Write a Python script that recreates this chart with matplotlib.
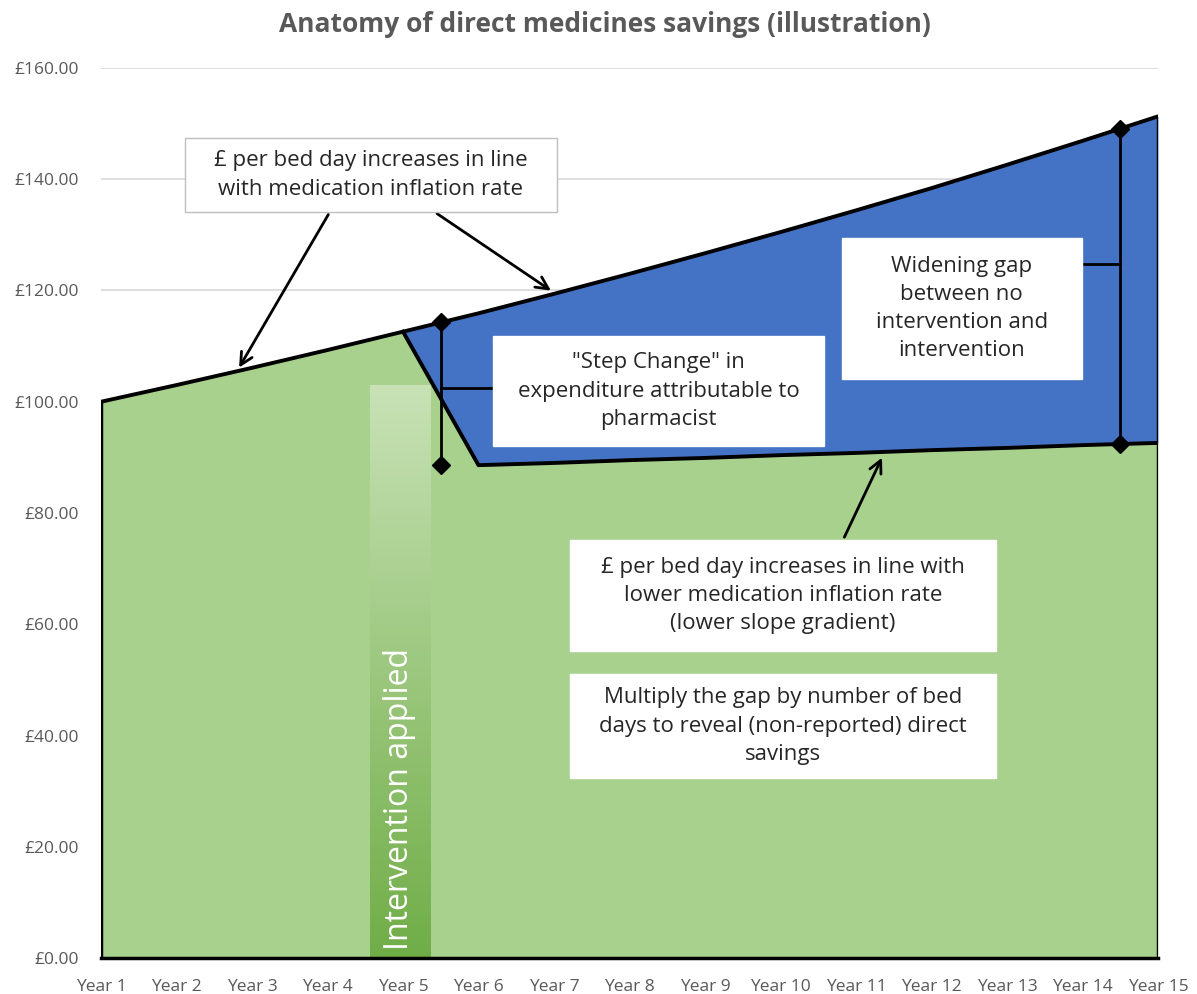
import numpy as np
import matplotlib
matplotlib.use('Agg')
import matplotlib.pyplot as plt
from matplotlib.patches import Rectangle
from matplotlib.colors import LinearSegmentedColormap

plt.rcParams['font.family'] = ['Open Sans', 'DejaVu Sans']

# data
years = ['Year 1', 'Year 2', 'Year 3', 'Year 4', 'Year 5', 'Year 6', 'Year 7', 'Year 8',
         'Year 9', 'Year 10', 'Year 11', 'Year 12', 'Year 13', 'Year 14', 'Year 15']
no_intervention = [100.0, 103.0, 106.1, 109.3, 112.6, 115.9, 119.4, 123.0,
                   126.7, 130.5, 134.4, 138.4, 142.6, 146.9, 151.3]
intervention = [100.0, 103.0, 106.1, 109.3, 112.6, 88.6, 89.0, 89.5,
                89.9, 90.4, 90.8, 91.3, 91.7, 92.2, 92.6]
step_x = 4.5      # between Year 5 and Year 6
gap_x = 13.5      # between Year 14 and Year 15
yticks = [0, 20, 40, 60, 80, 100, 120, 140, 160]

x = np.arange(len(years))
blue = '#4472c4'
green = '#a9d18e'
grey = '#595959'

fig = plt.figure(figsize=(11.97, 9.94), dpi=100)
ax = fig.add_axes([0.0844, 0.0362, 0.8830, 0.8954])
ax.set_xlim(0, 14)
ax.set_ylim(0, 160)

# gridlines
for v in yticks[1:]:
    ax.axhline(v, color='#d9d9d9', lw=1.2, zorder=0)

# areas
ax.fill_between(x, intervention, no_intervention, color=blue, zorder=1, lw=0)
ax.fill_between(x, 0, intervention, color=green, zorder=1, lw=0)

# outlines
ax.plot(x, no_intervention, color='black', lw=2.8, zorder=4, solid_capstyle='butt')
ax.plot(x[4:], intervention[4:], color='black', lw=2.8, zorder=4)
ax.plot([0, 0], [0, no_intervention[0]], color='black', lw=2.5, zorder=4)
ax.plot([14, 14], [0, no_intervention[-1]], color='black', lw=2.5, zorder=4)
ax.plot([0, 14], [0, 0], color='black', lw=2.5, zorder=4, clip_on=False)

# intervention applied bar (gradient)
grad = np.linspace(0, 1, 256).reshape(-1, 1)
cmap = LinearSegmentedColormap.from_list('g', ['#70ad47', '#c8e2b6'])
ax.imshow(grad, cmap=cmap, aspect='auto', extent=[3.56, 4.36, 0, 103],
          origin='lower', zorder=2)
ax.text(3.96, 1.5, 'Intervention applied', rotation=90, ha='center', va='bottom',
        color='white', fontsize=23, zorder=3)

# step change markers
top_step = np.interp(step_x, x, no_intervention)
bot_step = intervention[5]
ax.plot([step_x, step_x], [top_step, bot_step], color='black', lw=2, zorder=5)
ax.plot([step_x, step_x], [top_step, bot_step], 'D', color='black', ms=9, zorder=6)
ax.plot([step_x, 5.19], [102.5, 102.5], color='black', lw=2, zorder=5)

# widening gap markers
top_gap = np.interp(gap_x, x, no_intervention)
bot_gap = np.interp(gap_x, x, intervention)
ax.plot([gap_x, gap_x], [top_gap, bot_gap], color='black', lw=2, zorder=5)
ax.plot([gap_x, gap_x], [top_gap, bot_gap], 'D', color='black', ms=9, zorder=6)
ax.plot([12.99, gap_x], [124.8, 124.8], color='black', lw=2, zorder=5)


def box(x0, x1, y0, y1, txt, edge='white'):
    ax.add_patch(Rectangle((x0, y0), x1 - x0, y1 - y0, facecolor='white',
                           edgecolor=edge, lw=1, zorder=7))
    ax.text((x0 + x1) / 2, (y0 + y1) / 2, txt, ha='center', va='center',
            fontsize=16, color='#262626', zorder=8, linespacing=1.45)


box(1.11, 6.04, 134.1, 147.4,
    '£ per bed day increases in line\nwith medication inflation rate', edge='#bfbfbf')
box(5.19, 9.58, 92.0, 111.8,
    '"Step Change" in\nexpenditure attributable to\npharmacist')
box(9.81, 12.99, 104.1, 129.4,
    'Widening gap\nbetween no\nintervention and\nintervention')
box(6.21, 11.85, 55.2, 75.2,
    '£ per bed day increases in line with\nlower medication inflation rate\n(lower slope gradient)')
box(6.21, 11.85, 32.4, 51.0,
    'Multiply the gap by number of bed\ndays to reveal (non-reported) direct\nsavings')

# arrows
arrow = dict(arrowstyle='->', color='black', lw=2, mutation_scale=22)
ax.annotate('', xy=(1.81, 105.7), xytext=(3.03, 134.1), arrowprops=arrow, zorder=6)
ax.annotate('', xy=(5.99, 119.7), xytext=(4.42, 134.1), arrowprops=arrow, zorder=6)
ax.annotate('', xy=(10.36, 90.4), xytext=(9.83, 75.2), arrowprops=arrow, zorder=6)

# axes styling
ax.set_xticks(x)
ax.set_xticklabels(years)
ax.set_yticks(yticks)
ax.set_yticklabels(['£%.2f' % v for v in yticks])
ax.tick_params(length=0, labelsize=12.5, colors=grey)
ax.tick_params(axis='x', pad=15)
ax.tick_params(axis='y', pad=16)
for s in ax.spines.values():
    s.set_visible(False)

fig.text(0.505, 0.975, 'Anatomy of direct medicines savings (illustration)',
         ha='center', va='center', fontsize=19, fontweight='bold', color=grey)

fig.savefig('out.png', dpi=100)
